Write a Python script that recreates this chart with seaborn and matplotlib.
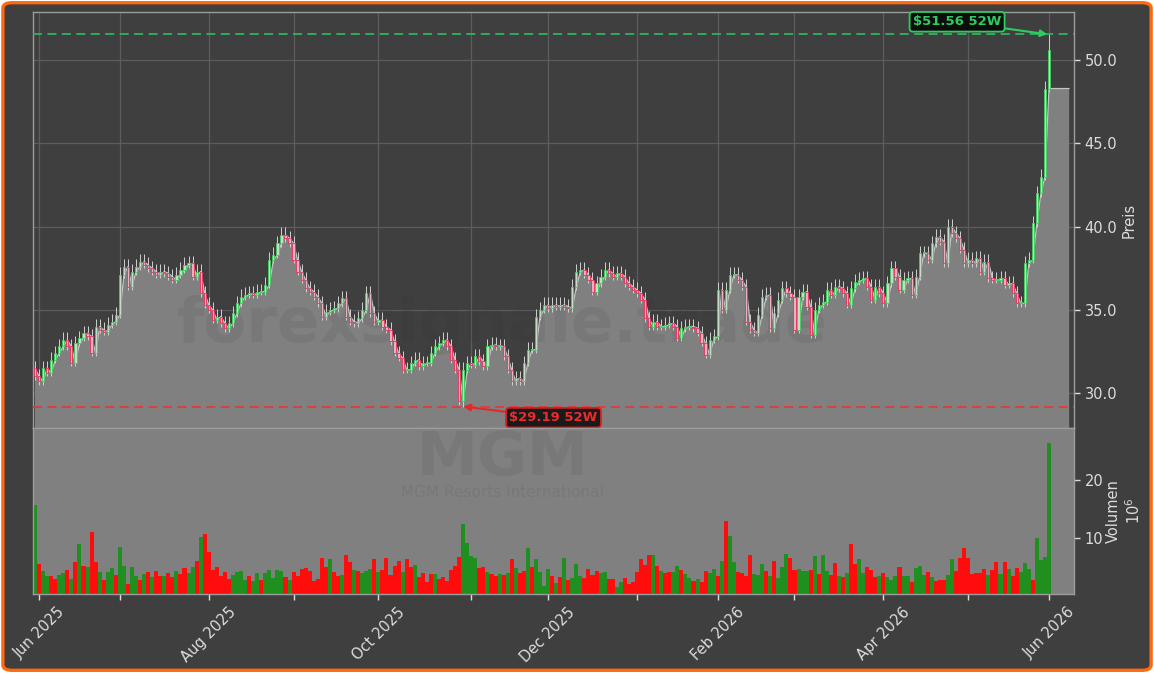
import numpy as np
import pandas as pd
import matplotlib
matplotlib.use("Agg")
import matplotlib.pyplot as plt
import seaborn as sns
from matplotlib.patches import FancyBboxPatch
from matplotlib.ticker import FormatStrFormatter

# ---------------- data ----------------
HOLIDAYS = ["2025-06-19", "2025-07-04", "2025-09-01", "2025-11-27", "2025-12-25",
            "2026-01-01", "2026-01-19", "2026-02-16", "2026-04-03", "2026-05-25"]
FIRST_OPEN = 31.5

close = [
    31.0, 30.7, 31.5, 31.2, 32.0, 32.4, 32.8, 33.2, 32.8, 31.8,
    33.0, 33.3, 33.6, 33.4, 32.4, 34.0, 33.8, 33.7, 34.1, 34.3,
    34.7, 37.1, 37.6, 36.4, 37.3, 37.6, 37.9, 37.7, 37.5, 37.3,
    37.1, 37.3, 37.2, 37.0, 36.8, 37.1, 37.4, 37.7, 37.8, 37.0,
    37.3, 36.0, 35.3, 35.0, 34.4, 34.6, 34.2, 33.9, 34.2, 34.8,
    35.4, 35.8, 35.9, 36.0, 35.9, 36.1, 36.1, 36.5, 38.0, 38.3,
    39.0, 39.5, 39.3, 39.0, 38.0, 37.3, 36.8, 36.3, 36.1, 35.8,
    35.4, 34.6, 34.9, 35.0, 35.1, 35.4, 35.7, 34.6, 34.3, 34.2,
    34.5, 35.0, 36.0, 34.8, 34.3, 34.4, 34.0, 33.8, 33.1, 32.4,
    32.1, 31.4, 31.4, 31.8, 32.0, 31.6, 31.8, 31.8, 32.4, 32.8,
    33.0, 33.2, 32.8, 32.0, 31.4, 29.5, 31.4, 31.8, 31.7, 32.2,
    31.9, 31.6, 32.8, 32.9, 32.8, 32.8, 32.2, 31.4, 30.7, 30.9,
    30.7, 31.8, 32.6, 32.6, 34.6, 35.0, 35.3, 35.1, 35.3, 35.2,
    35.3, 35.2, 35.1, 36.4, 37.3, 37.4, 37.1, 36.8, 36.1, 36.6,
    37.0, 37.4, 37.2, 37.0, 37.2, 37.0, 36.6, 36.4, 36.2, 36.0,
    35.6, 34.5, 34.0, 34.3, 34.0, 34.0, 34.1, 34.2, 34.0, 33.3,
    33.9, 34.0, 34.0, 33.9, 33.6, 33.0, 32.3, 33.2, 33.4, 36.2,
    35.0, 36.2, 37.1, 37.1, 36.8, 36.4, 34.3, 33.8, 33.6, 34.7,
    35.8, 35.9, 33.9, 34.8, 35.6, 36.3, 36.0, 35.8, 33.8, 35.8,
    36.1, 35.2, 33.5, 35.0, 35.3, 35.5, 36.2, 35.9, 36.4, 36.3,
    36.0, 35.3, 36.3, 36.7, 36.8, 36.9, 36.4, 35.6, 36.4, 36.0,
    35.4, 36.6, 37.5, 37.0, 36.2, 36.8, 36.9, 35.9, 37.0, 38.4,
    38.4, 38.0, 39.0, 39.4, 39.1, 37.8, 40.0, 39.6, 39.3, 38.6,
    37.8, 38.0, 37.8, 38.1, 37.3, 37.9, 36.9, 36.8, 36.8, 36.9,
    36.5, 36.6, 36.0, 35.4, 35.4, 37.8, 38.0, 40.2, 42.0, 43.0,
    48.3, 50.6,
]

volume_m = [
    15.7, 5.5, 4.3, 3.4, 3.4, 2.9, 3.6, 3.9, 4.5, 2.9,
    5.8, 9.0, 5.2, 5.0, 11.0, 5.8, 4.1, 2.7, 4.1, 4.8,
    3.6, 8.4, 5.2, 2.0, 5.0, 3.4, 2.7, 3.8, 4.1, 3.2,
    4.3, 3.4, 3.4, 3.9, 3.2, 4.3, 3.8, 4.8, 3.9, 5.0,
    6.0, 10.2, 10.7, 7.6, 4.5, 5.0, 3.4, 4.1, 2.9, 3.6,
    4.1, 4.3, 2.7, 3.4, 2.5, 3.9, 2.7, 3.9, 4.5, 3.1,
    4.5, 4.3, 3.2, 2.7, 4.1, 3.4, 4.7, 4.8, 4.3, 2.5,
    2.9, 6.6, 5.0, 6.4, 4.1, 3.4, 3.6, 7.0, 5.8, 4.5,
    4.3, 3.9, 4.3, 4.7, 6.3, 4.1, 4.5, 6.6, 3.6, 5.2,
    6.0, 4.1, 6.4, 5.0, 5.3, 3.2, 3.9, 2.4, 3.8, 3.8,
    2.9, 3.2, 2.5, 4.5, 5.2, 6.7, 12.4, 9.1, 6.9, 6.6,
    4.8, 5.0, 4.1, 3.8, 3.4, 3.8, 3.6, 3.9, 6.4, 4.8,
    3.9, 4.3, 8.3, 5.0, 6.4, 4.1, 1.7, 4.7, 3.4, 2.2,
    3.2, 6.5, 2.7, 3.1, 5.5, 3.4, 3.1, 4.7, 3.6, 4.3,
    3.9, 4.1, 2.9, 2.9, 1.5, 2.4, 3.1, 2.0, 2.4, 4.1,
    6.3, 5.3, 7.0, 7.0, 5.2, 4.3, 3.9, 4.1, 4.1, 5.2,
    4.5, 3.8, 3.1, 2.5, 2.9, 2.4, 4.3, 3.9, 4.7, 3.4,
    6.0, 12.9, 10.3, 5.8, 4.1, 3.9, 3.4, 7.0, 3.8, 3.6,
    5.5, 4.3, 3.4, 6.0, 3.1, 5.0, 7.2, 6.6, 4.5, 4.7,
    4.3, 4.3, 4.5, 6.9, 3.8, 7.0, 4.3, 3.6, 5.7, 3.4,
    3.2, 3.9, 9.0, 5.5, 6.4, 3.9, 5.0, 4.5, 3.2, 3.4,
    3.9, 3.2, 2.7, 3.4, 5.0, 3.4, 3.4, 2.4, 4.8, 5.2,
    3.6, 4.1, 3.2, 2.5, 2.7, 2.7, 3.6, 6.4, 4.3, 6.6,
    8.2, 6.6, 3.8, 3.9, 3.9, 4.7, 3.6, 4.5, 5.8, 3.8,
    5.8, 4.7, 3.4, 4.8, 4.1, 5.7, 4.7, 2.7, 10.0, 6.2,
    6.7, 26.5,
]

volume_dir = ("GRGGRRGGRG" "RGRGRRGRGG" "RGGRGGRGRG" "RRGRRGRRGG" "RGRRRRRRRG"
              "GGGRGGRGGG" "GGRGRRRRRR" "RRRGRRGRRG" "RGGGRGRRRR" "RGRRGRRRRG"
              "RRRRRRGGGG" "RRGRRGRGRG" "RRGRGGGGRG" "RGRGGGRRRR" "GGRRGGRRRR"
              "RRRGRGRRGG" "RGGRGRRGGR" "GRGGRRRRGG" "GRGRGGGRRG" "GGRGRGGRRG"
              "RGRRGGRRRG" "RGGGRGGRGG" "GRGRRRGGRR" "RRRRRRGRRG" "RGRRGGGRGG"
              "GG")

HIGH_52W, HIGH_IDX = 51.56, 251
LOW_52W, LOW_IDX = 29.19, 106
WICK_UP, WICK_DN = 0.45, 0.2
LABEL_HIGH = "$51.56 52W"
LABEL_LOW = "$29.19 52W"
TICKER = "MGM"
COMPANY = "MGM Resorts International"
WATERMARK = "forexsignale.trade"

# ---------------- derived frame ----------------
dates = pd.bdate_range("2025-05-30", "2026-06-01")
dates = dates[~dates.isin(pd.to_datetime(HOLIDAYS))]
N = len(close)
idx = np.arange(N)
close_a = np.array(close)
open_a = np.array([FIRST_OPEN] + close[:-1])
high_a = np.maximum(open_a, close_a) + WICK_UP
low_a = np.minimum(open_a, close_a) - WICK_DN
high_a[HIGH_IDX] = HIGH_52W
low_a[LOW_IDX] = LOW_52W
df = pd.DataFrame({"date": dates[:N], "open": open_a, "close": close_a,
                   "high": high_a, "low": low_a, "vol": volume_m,
                   "dir": list(volume_dir)})

month_pos = [i for i in range(1, N) if df.date[i].month != df.date[i - 1].month]
month_lab = [df.date[i].strftime("%b %Y") if df.date[i].month % 2 == 0 else "" for i in month_pos]

# ---------------- style ----------------
BG = "#3f3f3f"
sns.set_theme(style="dark")
plt.rcParams["font.family"] = ["DejaVu Sans"]
TXT = "#dcdcdc"

fig = plt.figure(figsize=(11.54, 6.73), dpi=100)
fig.patch.set_facecolor("white")
fig.patches.append(FancyBboxPatch((0.0025, 0.004), 0.995, 0.992,
                                  boxstyle="round,pad=0,rounding_size=0.008",
                                  transform=fig.transFigure, facecolor=BG,
                                  edgecolor="#ff6a10", lw=2.4, zorder=-10))

L, W = 0.0286, 0.9021
ax = fig.add_axes([L, 0.364, W, 0.6182])
axv = fig.add_axes([L, 0.1174, W, 0.2466], sharex=ax)

# ---------- price panel ----------
ax.set_facecolor(BG)
ax.grid(True, color="#5d5d5d", lw=0.9)
ax.set_axisbelow(True)
xf = np.append(idx, idx[-1] + 5)
yf = np.append(open_a, open_a[-1])
ax.fill_between(xf, yf, 0, color="#808080", lw=0, zorder=1)
sns.lineplot(x=xf, y=yf, ax=ax, color="#c4c4c4", lw=0.9, sort=False, zorder=2)

ax.text(0.435, 0.517, WATERMARK, transform=fig.transFigure, ha="center", va="center",
        fontsize=45, fontweight="bold", color="#2a2a2a", alpha=0.09, zorder=1.5)

ax.vlines(idx, df.low, df.high, color="#d0d0d0", lw=0.7, zorder=3)
up = df.close >= df.open
body_lo = np.minimum(df.open, df.close)
body_h = np.maximum(np.abs(df.close - df.open), 0.06)
ax.bar(idx[up], body_h[up], bottom=body_lo[up], width=0.55,
       color="#c3dcc3", edgecolor="#3fcf5c", lw=0.6, zorder=4)
ax.bar(idx[~up], body_h[~up], bottom=body_lo[~up], width=0.55,
       color="#eeb0bd", edgecolor="#e8305e", lw=0.6, zorder=4)

ax.axhline(HIGH_52W, color="#2fb35c", ls=(0, (5, 3)), lw=1.3, zorder=5)
ax.axhline(LOW_52W, color="#e23b3b", ls=(0, (5, 3)), lw=1.3, zorder=5)

ax.annotate(LABEL_HIGH, xy=(HIGH_IDX - 0.4, HIGH_52W), xytext=(-65, 9),
            textcoords="offset points", ha="center", va="center",
            fontsize=9.5, fontweight="bold", color="#2ecc60", zorder=8,
            bbox=dict(boxstyle="round,pad=0.25", fc="#0d0d0d", ec="#2ecc60", lw=1.3),
            arrowprops=dict(arrowstyle="-|>", color="#2ecc60", lw=1.5,
                            shrinkA=0, shrinkB=0, mutation_scale=10))
ax.annotate(LABEL_LOW, xy=(LOW_IDX, LOW_52W), xytext=(65, -8),
            textcoords="offset points", ha="center", va="center",
            fontsize=9.5, fontweight="bold", color="#ee2b2b", zorder=8,
            bbox=dict(boxstyle="round,pad=0.25", fc="#1a1a1a", ec="#d42020", lw=1.3),
            arrowprops=dict(arrowstyle="-|>", color="#e02a2a", lw=1.5,
                            shrinkA=0, shrinkB=0, mutation_scale=10))

ax.set_ylim(27.9, 52.9)
ax.set_xlim(-0.5, 257.2)
ax.set_yticks([30, 35, 40, 45, 50])
ax.yaxis.set_major_formatter(FormatStrFormatter("%.1f"))
ax.yaxis.tick_right()
ax.yaxis.set_label_position("right")
ax.set_ylabel("Preis", color=TXT, fontsize=10.5, labelpad=3)
ax.set_xticks(month_pos)
ax.tick_params(axis="x", length=0, labelbottom=False)
ax.tick_params(axis="y", colors=TXT, labelsize=10.5, length=4, width=1, direction="out",
               right=True, left=False)
for s in ax.spines.values():
    s.set_color("#9c9c9c")
    s.set_linewidth(1.0)

# ---------- volume panel ----------
axv.set_facecolor("#808080")
axv.grid(False)
vcol = ["#1f8f1f" if d == "G" else "#ff0d0d" for d in df.dir]
axv.bar(idx, df.vol, width=1.0, color=vcol, lw=0, zorder=2)
axv.text(0.435, 0.318, TICKER, transform=fig.transFigure, ha="center", va="center",
         fontsize=44, fontweight="bold", color="#2a2a2a", alpha=0.09, zorder=1)
axv.text(0.435, 0.268, COMPANY, transform=fig.transFigure, ha="center", va="center",
         fontsize=11, color="#2a2a2a", alpha=0.09, zorder=1)
axv.set_ylim(0.3, 29.1)
axv.set_yticks([10, 20])
axv.yaxis.tick_right()
axv.yaxis.set_label_position("right")
axv.set_ylabel("Volumen\n$10^{6}$", color=TXT, fontsize=10.5, labelpad=2)
axv.tick_params(axis="y", colors=TXT, labelsize=10.5, length=4, width=1, right=True, left=False)
axv.set_xticks(month_pos)
axv.set_xticklabels(month_lab, rotation=45, ha="center")
axv.tick_params(axis="x", colors=TXT, labelsize=10.5, length=4, width=1, bottom=True)
for s in axv.spines.values():
    s.set_color("#9c9c9c")
    s.set_linewidth(1.0)

fig.savefig("out.png", dpi=100, facecolor=fig.get_facecolor())
